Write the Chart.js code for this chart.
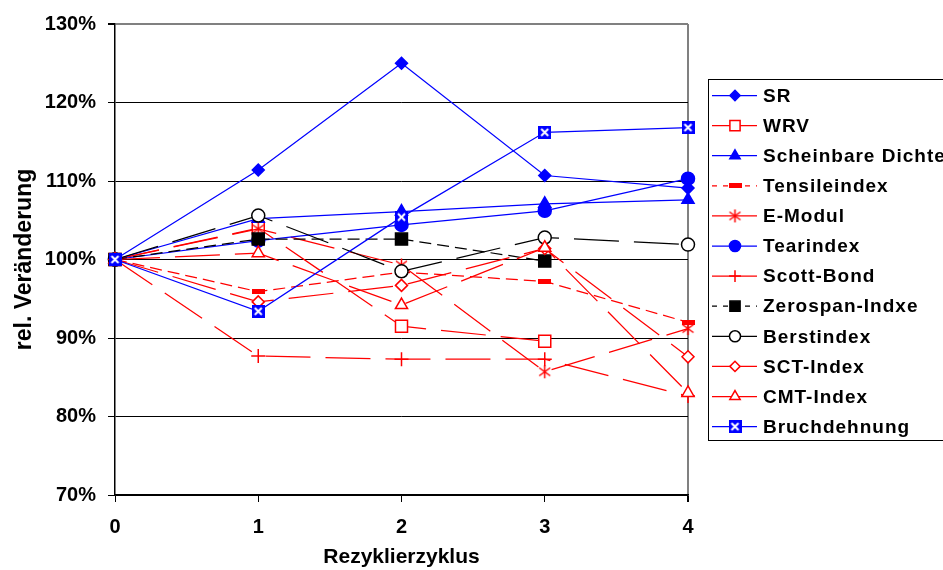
<!DOCTYPE html>
<html>
<head>
<meta charset="utf-8">
<script src="https://cdn.jsdelivr.net/npm/chart.js@4/dist/chart.umd.min.js"></script>
<style>
  body { margin: 0; background: #fff; }
</style>
</head>
<body>
<canvas id="chart" width="943" height="570"></canvas>
<script>
// data (percent of cycle 0)
const cycles = ['0', '1', '2', '3', '4'];
const seriesNames = ['SR', 'WRV', 'Scheinbare Dichte', 'Tensileindex', 'E-Modul', 'Tearindex',
  'Scott-Bond', 'Zerospan-Indxe', 'Berstindex', 'SCT-Index', 'CMT-Index', 'Bruchdehnung'];
const sr = [100, 111.4, 125.0, 110.7, 109.1];
const wrv = [100, 104.0, 91.5, 89.6, null];
const scheinbareDichte = [100, 105.2, 106.1, 107.1, 107.6];
const tensileindex = [100, 95.9, 98.4, 97.2, 92.0];
const eModul = [100, 103.9, 99.3, 85.7, 91.2];
const tearindex = [100, 102.4, 104.4, 106.2, 110.3];
const scottBond = [100, 87.7, 87.3, 87.3, 82.6];
const zerospan = [100, 102.6, 102.6, 99.8, null];
const berstindex = [100, 105.6, 98.5, 102.8, 101.9];
const sctIndex = [100, 94.6, 96.7, 101.4, 87.6];
const cmtIndex = [100, 100.8, 94.2, 101.5, 83.0];
const bruchdehnung = [100, 93.4, 105.4, 116.2, 116.8];
const yTicks = [70, 80, 90, 100, 110, 120, 130];

const BLUE = '#0000FF', RED = '#FF0000', BLACK = '#000000';
const FONT = '"Liberation Sans", Arial, sans-serif';

// custom markers
function bruchMarker() {
  const c = document.createElement('canvas');
  c.width = 13; c.height = 13;
  const g = c.getContext('2d');
  g.fillStyle = BLUE; g.fillRect(0, 0, 13, 13);
  g.strokeStyle = '#fff'; g.lineWidth = 2;
  g.beginPath(); g.moveTo(3, 3); g.lineTo(10, 10); g.moveTo(10, 3); g.lineTo(3, 10); g.stroke();
  return c;
}
function tensileMarker() {
  const c = document.createElement('canvas');
  c.width = 13; c.height = 5;
  const g = c.getContext('2d');
  g.fillStyle = RED; g.fillRect(0, 0, 13, 5);
  return c;
}
function asteriskMarker() {
  const c = document.createElement('canvas');
  c.width = 15; c.height = 15;
  const g = c.getContext('2d');
  g.strokeStyle = RED; g.lineWidth = 1.5;
  g.beginPath();
  g.moveTo(7.5, 1); g.lineTo(7.5, 14);
  g.moveTo(2, 3.5); g.lineTo(13, 11.5);
  g.moveTo(13, 3.5); g.lineTo(2, 11.5);
  g.stroke();
  return c;
}

const LONG = [45, 15], SHORT = [12, 6];

function series(i, data, color, style, fill, radius, dash, legendDash) {
  return {
    label: seriesNames[i],
    data: data,
    borderColor: color,
    borderWidth: 1.25,
    borderDash: dash,
    legendDash: legendDash,
    pointStyle: style,
    pointRadius: radius,
    pointBackgroundColor: fill,
    pointBorderColor: color,
    pointBorderWidth: 1.5,
    tension: 0,
    clip: false,
    order: 20 - i
  };
}

const datasets = [
  series(0, sr, BLUE, 'rectRot', BLUE, 6, [], []),
  series(1, wrv, RED, 'rect', '#fff', 8.5, LONG, []),
  series(2, scheinbareDichte, BLUE, 'triangle', BLUE, 7, [], []),
  series(3, tensileindex, RED, tensileMarker(), RED, 6, SHORT, [5, 6]),
  series(4, eModul, RED, asteriskMarker(), RED, 6, LONG, []),
  series(5, tearindex, BLUE, 'circle', BLUE, 6.5, [], []),
  series(6, scottBond, RED, 'cross', RED, 7, LONG, []),
  series(7, zerospan, BLACK, 'rect', BLACK, 8.5, SHORT, [5, 6]),
  series(8, berstindex, BLACK, 'circle', '#fff', 6.5, LONG, []),
  series(9, sctIndex, RED, 'rectRot', '#fff', 6, LONG, []),
  series(10, cmtIndex, RED, 'triangle', '#fff', 7, LONG, []),
  series(11, bruchdehnung, BLUE, bruchMarker(), BLUE, 6, [], [])
];

// legend box drawn at the right like the original
const legendBox = {
  id: 'legendBox',
  afterDraw(chart) {
    const ctx = chart.ctx;
    ctx.save();
    ctx.strokeStyle = '#000';
    ctx.lineWidth = 1;
    ctx.strokeRect(708.5, 79.5, 260, 361);
    chart.data.datasets.forEach((ds, i) => {
      const y = 95.5 + i * 30.1;
      ctx.save();
      ctx.strokeStyle = ds.borderColor;
      ctx.lineWidth = ds.borderWidth;
      ctx.setLineDash(ds.legendDash);
      ctx.beginPath(); ctx.moveTo(712, y); ctx.lineTo(757, y); ctx.stroke();
      ctx.restore();
      ctx.save();
      ctx.fillStyle = ds.pointBackgroundColor;
      ctx.strokeStyle = ds.pointBorderColor;
      ctx.lineWidth = ds.pointBorderWidth;
      Chart.helpers.drawPoint(ctx, {
        pointStyle: ds.pointStyle, radius: ds.pointRadius * 0.85,
        rotation: 0, borderWidth: ds.pointBorderWidth
      }, 735, y);
      ctx.restore();
      ctx.fillStyle = '#000';
      ctx.font = 'bold 19px ' + FONT;
      ctx.letterSpacing = '1px';
      ctx.textBaseline = 'middle';
      ctx.fillText(ds.label, 763, y + 1);
    });
    ctx.restore();
  }
};

new Chart(document.getElementById('chart'), {
  type: 'line',
  data: { labels: cycles, datasets: datasets },
  options: {
    responsive: false,
    animation: false,
    layout: { padding: { top: 23, right: 255, left: 0, bottom: 0 } },
    plugins: { legend: { display: false }, tooltip: { enabled: false } },
    scales: {
      x: {
        type: 'category',
        offset: false,
        afterFit: (s) => { s.height = 75; },
        grid: {
          color: (c) => c.index === 4 ? '#808080' : 'transparent',
          lineWidth: (c) => c.index === 4 ? 2 : 1,
          tickColor: '#000',
          tickLength: 7
        },
        border: { display: true, color: '#000', width: 1.5 },
        ticks: { color: '#000', padding: 13, font: { family: FONT, size: 20, weight: 'bold' } },
        title: {
          display: true, text: 'Rezyklierzyklus', color: '#000',
          padding: { top: 0, bottom: 0 },
          font: { family: FONT, size: 21, weight: 'bold' }
        }
      },
      y: {
        min: yTicks[0],
        max: yTicks[yTicks.length - 1],
        afterFit: (s) => { s.width = 115; },
        afterBuildTicks: (s) => { s.ticks = yTicks.map(v => ({ value: v })); },
        grid: {
          color: (c) => c.tick && c.tick.value === 130 ? '#808080' : '#000',
          lineWidth: (c) => c.tick && c.tick.value === 130 ? 2 : 1,
          tickColor: '#000',
          tickLength: 7
        },
        border: { display: true, color: '#000', width: 1.5 },
        ticks: {
          color: '#000', padding: 12,
          font: { family: FONT, size: 20, weight: 'bold' },
          callback: (v) => v + '%'
        },
        title: {
          display: true, text: 'rel. Veränderung', color: '#000',
          padding: { top: 11, bottom: 0 },
          font: { family: FONT, size: 23, weight: 'bold' }
        }
      }
    }
  },
  plugins: [legendBox]
});
</script>
</body>
</html>
